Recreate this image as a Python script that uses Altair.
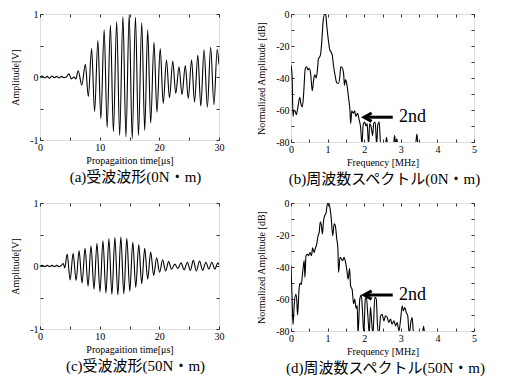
import altair as alt
import pandas as pd

SERIF = "Liberation Serif"
CAPFONT = "'Liberation Serif', 'Noto Sans CJK JP'"

# ---------------- waveform (a): 0 N·m ----------------
a_time = [0, 0.4, 0.8, 1.2, 1.6, 2.0, 2.4, 2.8, 3.2, 3.6, 4.0, 4.4, 4.85, 5.25, 5.7, 6.0,
          6.4, 7.0, 7.6, 8.1, 8.65, 9.15, 9.7, 10.2, 10.75, 11.25, 11.8, 12.3, 12.85, 13.35,
          13.9, 14.4, 14.95, 15.45, 16.0, 16.5, 17.05, 17.55, 18.05, 18.55, 19.1, 19.6,
          20.15, 20.65, 21.2, 21.7, 22.25, 22.75, 23.3, 23.8, 24.35, 24.85, 25.4, 25.9,
          26.45, 26.95, 27.5, 28.05, 28.6, 29.15, 29.7, 30.0]
a_amp = [0, 0.015, -0.015, 0.01, -0.02, 0.015, -0.01, 0.01, -0.015, 0.01, -0.01, 0.0, 0.05, -0.03, 0.0, -0.03,
         0.1, -0.13, 0.2, -0.31, 0.45, -0.55, 0.58, -0.66, 0.75, -0.8, 0.82, -0.87, 0.88, -0.93,
         0.96, -0.95, 0.99, -0.98, 0.95, -0.93, 0.86, -0.85, 0.75, -0.73, 0.55, -0.56,
         0.45, -0.42, 0.27, -0.33, 0.25, -0.26, 0.16, -0.28, 0.18, -0.34, 0.27, -0.4,
         0.35, -0.46, 0.43, -0.48, 0.47, -0.44, 0.44, 0.2]

# ---------------- waveform (c): 50 N·m ----------------
c_time = [0, 0.4, 0.8, 1.2, 1.6, 2.0, 2.4, 2.8, 3.2, 3.6, 3.9, 4.15,
          4.55, 5.05, 5.55, 6.05, 6.55, 7.05, 7.55, 8.05, 8.55, 9.05, 9.55, 10.05,
          10.55, 11.05, 11.55, 12.05, 12.55, 13.05, 13.55, 14.05, 14.55, 15.05, 15.55, 16.05,
          16.55, 17.05, 17.55, 18.05, 18.55, 19.05, 19.55, 20.05, 20.55, 21.05, 21.55, 22.05,
          22.6, 23.1, 23.65, 24.15, 24.7, 25.2, 25.7, 26.2, 26.75, 27.25, 27.8, 28.3,
          28.8, 29.3, 29.8, 30.0]
c_amp = [0, 0.01, -0.01, 0.01, -0.01, 0.01, -0.01, 0.01, -0.01, 0.01, 0.04, -0.03,
         0.19, -0.22, 0.2, -0.23, 0.24, -0.27, 0.28, -0.32, 0.32, -0.37, 0.36, -0.41,
         0.4, -0.43, 0.43, -0.45, 0.45, -0.46, 0.46, -0.44, 0.44, -0.4, 0.38, -0.34,
         0.34, -0.28, 0.28, -0.21, 0.22, -0.15, 0.13, -0.1, 0.1, -0.08, 0.07, -0.05,
         0.03, -0.04, 0.05, -0.06, 0.06, -0.07, 0.09, -0.08, 0.08, -0.07, 0.06, -0.05,
         0.06, -0.05, 0.05, 0.02]

# ---------------- spectrum (b): 0 N·m ----------------
b_freq = [0, 0.03, 0.055, 0.08, 0.12, 0.145, 0.19, 0.24, 0.27, 0.31, 0.345, 0.39, 0.43, 0.46,
          0.5, 0.54, 0.58, 0.62, 0.65, 0.69, 0.73, 0.75, 0.78, 0.81, 0.85, 0.88, 0.92, 0.95,
          0.98, 1.03, 1.06, 1.09, 1.13, 1.16, 1.21, 1.25, 1.29, 1.33, 1.36, 1.4, 1.44, 1.46,
          1.49, 1.53, 1.57, 1.61, 1.63, 1.66, 1.7, 1.74, 1.77, 1.82, 1.86, 1.9, 1.94, 1.97,
          2.01, 2.05, 2.08, 2.12, 2.15, 2.19, 2.23, 2.26, 2.3, 2.34, 2.37, 2.41, 2.45, 2.55,
          2.58, 2.61, 2.64, 2.8, 2.83, 2.86, 2.89, 2.92, 3.4, 3.44, 3.47, 3.5, 3.6]
b_db = [-32, -39, -64, -60, -61, -63, -58, -52, -56, -58, -50, -34, -33, -35,
        -34, -38, -48, -41, -38, -40, -33, -28, -27, -25, -14, -4, 0, -0.6,
        -8, -18, -22.5, -23.6, -26, -32, -39, -43, -43.4, -40, -33, -33.6, -38, -44.5,
        -41, -44.5, -52, -60, -68.5, -60.5, -62, -60.5, -64, -62, -66, -70.5, -82, -69.5,
        -67.5, -70, -68.5, -82, -68.5, -70.5, -76, -68.5, -67.5, -82, -69.5, -67.5, -82, -82,
        -82, -77, -82, -82, -76, -82, -78, -82, -82, -75, -82, -82, -82]

# ---------------- spectrum (d): 50 N·m ----------------
d_freq = [0, 0.03, 0.055, 0.09, 0.13, 0.155, 0.18, 0.22, 0.245, 0.28, 0.32, 0.36, 0.38, 0.41,
          0.45, 0.48, 0.52, 0.56, 0.59, 0.63, 0.67, 0.7, 0.74, 0.77, 0.8, 0.83, 0.86, 0.885,
          0.92, 0.96, 0.995, 1.03, 1.07, 1.105, 1.14, 1.18, 1.21, 1.25, 1.28, 1.3, 1.34, 1.38,
          1.41, 1.45, 1.49, 1.52, 1.56, 1.6, 1.63, 1.67, 1.71, 1.74, 1.78, 1.81, 1.83, 1.88,
          1.92, 1.95, 1.99, 2.03, 2.06, 2.1, 2.14, 2.17, 2.21, 2.24, 2.29, 2.33, 2.36, 2.4,
          2.45, 2.49, 2.54, 2.58, 2.63, 2.67, 2.72, 2.76, 2.81, 2.86, 2.9, 2.95, 2.99, 3.04,
          3.07, 3.11, 3.15, 3.19, 3.23, 3.28, 3.31, 3.35, 3.59, 3.62, 3.66, 3.8]
d_db = [-39, -60, -76, -63, -57, -60, -70, -54, -50, -51, -43, -36, -46.5, -33,
        -32, -33, -31, -33, -28, -31, -28, -26, -20.5, -18.4, -11.7, -14, -19.4, -12,
        -8, -6, -0.6, 0, -3.8, -11, -20.5, -13, -14, -22.5, -28, -43.4, -34, -35,
        -36, -34, -37, -41, -47.6, -41, -52, -54, -63, -60, -66, -64, -82, -60,
        -57.6, -66, -82, -60, -59, -70.5, -82, -65, -76, -82, -59, -60, -75, -82,
        -70.5, -69.5, -73.7, -70.5, -71.6, -74.7, -72.6, -75.8, -73.7, -76.8, -74.7, -80, -73.7, -64.3,
        -67.4, -65.3, -68.5, -70.5, -82, -73.7, -71.6, -82, -82, -77, -82, -82]

# annotation "2nd" arrows
b_arrow = {"tail": 2.78, "tip": 2.0, "db": -64.5, "text_at": 2.95}
d_arrow = {"tail": 2.78, "tip": 2.0, "db": -57.5, "text_at": 2.95}

time_ticks = [0, 5, 10, 15, 20, 25, 30]
amp_ticks = [-1, -0.5, 0, 0.5, 1]
freq_ticks = [0, 0.5, 1, 1.5, 2, 2.5, 3, 3.5, 4, 4.5, 5]
db_ticks = [-80, -70, -60, -50, -40, -30, -20, -10, 0]

W_L, H_L = 179, 126
W_R, H_R = 183, 128


def main_axis(values, every, title, orient, title_pad):
    return alt.Axis(
        orient=orient, values=values, title=title,
        labelExpr=f"abs(datum.value % {every}) < 1e-9 ? '' + datum.value : ''",
        offset=-3, tickSize=3, tickColor="black", tickWidth=0.8, domain=False, grid=False,
        labelFont=SERIF, labelFontSize=10, labelColor="black", labelPadding=2,
        labelFlush=False, labelOverlap=False,
        titleFont=SERIF, titleFontSize=10, titleFontWeight="normal", titleColor="black",
        titlePadding=title_pad,
    )


def mirror_axis(values, orient):
    return alt.Axis(
        orient=orient, values=values, title=None, labels=False,
        offset=-3, tickSize=3, tickColor="black", tickWidth=0.8, domain=False, grid=False,
    )


def panel(df, xf, yf, xdom, ydom, xticks, xevery, yticks, yevery, xtitle, ytitle,
          w, h, caption, cap_dx, arrow=None):
    xs = alt.Scale(domain=xdom, nice=False, zero=False)
    ys = alt.Scale(domain=ydom, nice=False, zero=False)
    xa = main_axis(xticks, xevery, xtitle, "bottom", 3)
    ya = main_axis(yticks, yevery, ytitle, "left", 9)
    line = alt.Chart(df).mark_line(
        color="black", strokeWidth=1.1, interpolate="monotone", clip=True
    ).encode(x=alt.X(f"{xf}:Q", scale=xs, axis=xa), y=alt.Y(f"{yf}:Q", scale=ys, axis=ya))
    inner = [line]
    if arrow is not None:
        adf = pd.DataFrame({xf: [arrow["tail"]], "x2": [arrow["tip"] + 0.03], yf: [arrow["db"]]})
        hdf = pd.DataFrame({xf: [arrow["tip"] + 0.1], yf: [arrow["db"]]})
        tdf = pd.DataFrame({xf: [arrow["text_at"]], yf: [arrow["db"]], "label": ["2nd"]})
        rule = alt.Chart(adf).mark_rule(color="black", strokeWidth=3).encode(
            x=alt.X(f"{xf}:Q", scale=xs, axis=xa), x2="x2:Q",
            y=alt.Y(f"{yf}:Q", scale=ys, axis=ya))
        head = alt.Chart(hdf).mark_point(
            shape="M 0.9 -1 L -0.9 0 L 0.9 1", filled=False, color="black",
            strokeWidth=3, size=70, opacity=1
        ).encode(x=alt.X(f"{xf}:Q", scale=xs, axis=xa), y=alt.Y(f"{yf}:Q", scale=ys, axis=ya))
        txt = alt.Chart(tdf).mark_text(
            font=SERIF, fontSize=18, align="left", baseline="middle", color="black"
        ).encode(x=alt.X(f"{xf}:Q", scale=xs, axis=xa), y=alt.Y(f"{yf}:Q", scale=ys, axis=ya),
                 text="label:N")
        inner += [rule, head, txt]
    mirror = alt.Chart(df).mark_line(opacity=0).encode(
        x=alt.X(f"{xf}:Q", scale=xs, axis=mirror_axis(xticks, "top")),
        y=alt.Y(f"{yf}:Q", scale=ys, axis=mirror_axis(yticks, "right")))
    return alt.layer(alt.layer(*inner), mirror).resolve_scale(
        x="independent", y="independent"
    ).properties(
        width=w, height=h,
        title=alt.TitleParams(caption, orient="bottom", font=CAPFONT, fontSize=15,
                              fontWeight="normal", color="black", offset=5,
                              anchor="middle", frame="group", dx=cap_dx),
    )


df_a = pd.DataFrame({"t": a_time, "v": a_amp})
df_c = pd.DataFrame({"t": c_time, "v": c_amp})
df_b = pd.DataFrame({"f": b_freq, "db": b_db})
df_d = pd.DataFrame({"f": d_freq, "db": d_db})

pa = panel(df_a, "t", "v", [0, 30], [-1, 1], time_ticks, 10, amp_ticks, 1,
           "Propagaition time[μs]", "Amplitude[V]", W_L, H_L, "(a)受波波形(0N・m)", 6)
pb = panel(df_b, "f", "db", [0, 5], [-80, 0], freq_ticks, 1, db_ticks, 20,
           "Frequency [MHz]", "Normalized Amplitude [dB]", W_R, H_R,
           "(b)周波数スペクトル(0N・m)", 2, b_arrow)
pc = panel(df_c, "t", "v", [0, 30], [-1, 1], time_ticks, 10, amp_ticks, 1,
           "Propagaition time[μs]", "Amplitude[V]", W_L, H_L, "(c)受波波形(50N・m)", 6)
pd_ = panel(df_d, "f", "db", [0, 5], [-80, 0], freq_ticks, 1, db_ticks, 20,
            "Frequency [MHz]", "Normalized Amplitude [dB]", W_R, H_R,
            "(d)周波数スペクトル(50N・m)", 3, d_arrow)

chart = alt.concat(
    pa, pb, pc, pd_, columns=2,
    spacing={"row": 61, "column": 72}, bounds="flush", align="each",
    padding={"left": 2, "top": 0, "right": 0, "bottom": 0},
).configure_view(stroke="black", strokeWidth=1).configure(background="white", font=SERIF)

chart.save("out.html", embed_options={"renderer": "svg", "actions": False})
